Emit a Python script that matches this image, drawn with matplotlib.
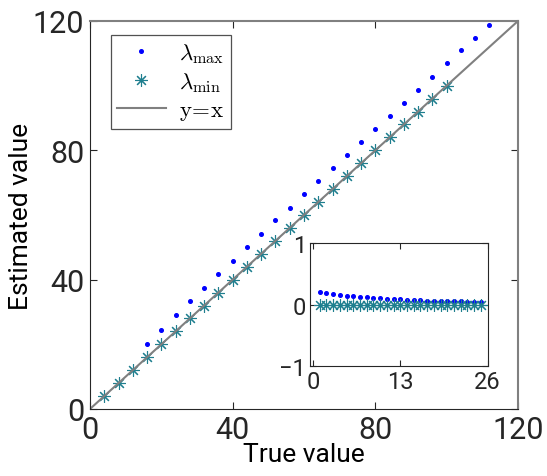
import matplotlib
matplotlib.use("Agg")
import matplotlib.pyplot as plt
import numpy as np

plt.rcParams['mathtext.fontset'] = 'cm'
plt.rcParams['font.family'] = ['Roboto', 'DejaVu Sans']

# Main panel data
true_min = [4, 8, 12, 16, 20, 24, 28, 32, 36, 40, 44, 48, 52, 56, 60, 64, 68, 72, 76, 80, 84, 88, 92, 96, 100]
est_min = [4, 8, 12, 16, 20, 24, 28, 32, 36, 40, 44, 48, 52, 56, 60, 64, 68, 72, 76, 80, 84, 88, 92, 96, 100]
true_max = [16, 20, 24, 28, 32, 36, 40, 44, 48, 52, 56, 60, 64, 68, 72, 76, 80, 84, 88, 92, 96, 100, 104, 108, 112]
est_max = [20.0, 24.5, 29.0, 33.3, 37.5, 41.7, 45.9, 50.0, 54.1, 58.3, 62.3, 66.4, 70.4,
           74.6, 78.6, 82.6, 86.7, 90.7, 94.7, 98.8, 102.8, 106.9, 110.9, 114.8, 118.9]

# Inset data (relative error vs index)
idx = list(range(1, 26))
rel_max = [0.206, 0.184, 0.168, 0.157, 0.146, 0.136, 0.130, 0.120, 0.114, 0.105, 0.098, 0.092, 0.087,
           0.082, 0.078, 0.074, 0.070, 0.066, 0.063, 0.060, 0.057, 0.054, 0.051, 0.048, 0.046]
rel_min = [0.0] * 25

main_ticks = [0, 40, 80, 120]
inset_xticks = [0, 13, 26]
inset_yticks = [-1, 0, 1]

blue = '#0000ff'
teal = '#1f7f8f'
grey = '#808080'
dark = '#262626'
star = (8, 2, 0)

fig = plt.figure(figsize=(5.47, 4.77), dpi=100)
ax = fig.add_axes([0.1645, 0.1405, 0.7825, 0.8134])

ax.plot(true_max, est_max, linestyle='none', marker='o', markersize=2.6, color=blue,
        label=r'$\lambda_{\rm max}$')
ax.plot(true_min, est_min, linestyle='none', marker=star, markersize=9, markeredgewidth=0.8,
        color=teal, label=r'$\lambda_{\rm min}$')
ax.plot([0, 120], [0, 120], color=grey, linewidth=1.5, label=r'$\rm y\!=\!x$')

ax.set_xlim(0, 120)
ax.set_ylim(0, 120)
ax.set_xticks(main_ticks)
ax.set_yticks(main_ticks)
ax.tick_params(direction='in', length=5, width=0.8, top=True, right=True,
               labelsize=22, colors=dark, pad=4)
for s in ['left', 'bottom']:
    ax.spines[s].set_color(dark)
for s in ['top', 'right']:
    ax.spines[s].set_color(grey)
    ax.spines[s].set_linewidth(1.5)
ax.set_xlabel('True value', fontsize=19, color='black', labelpad=-1)
ax.set_ylabel('Estimated value', fontsize=19, color='black', labelpad=0)

leg = ax.legend(loc='upper left', bbox_to_anchor=(0.048, 0.965), fontsize=16.5,
                frameon=True, fancybox=False, edgecolor=dark, handlelength=2.1,
                borderpad=0.3, labelspacing=0.2, handletextpad=0.6, borderaxespad=0)
leg.get_frame().set_linewidth(0.9)

ins = fig.add_axes([0.5667, 0.230, 0.326, 0.2578])
ins.plot(idx, rel_max, linestyle='none', marker='o', markersize=2.6, color=blue)
ins.plot(idx, rel_min, linestyle='none', marker=star, markersize=9, markeredgewidth=0.8, color=teal)
ins.set_xlim(-0.45, 26.1)
ins.set_ylim(-1, 1)
ins.set_xticks(inset_xticks)
ins.set_yticks(inset_yticks)
ins.tick_params(direction='in', length=4, width=0.8, top=True, right=True,
                labelsize=17, colors=dark, pad=3)
for s in ins.spines.values():
    s.set_color(dark)

fig.savefig('out.png', dpi=100)
